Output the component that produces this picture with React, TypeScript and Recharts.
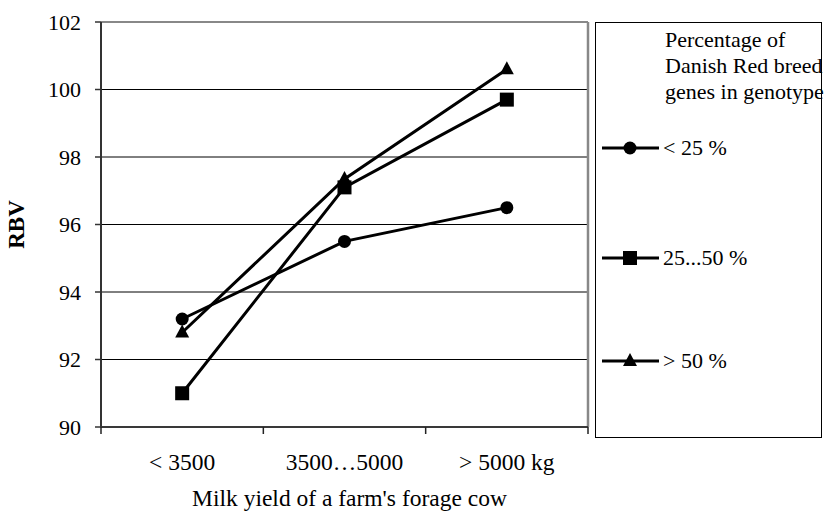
import React from "react";
import { LineChart, Line, XAxis, YAxis, CartesianGrid, ReferenceLine } from "recharts";

const categories = ["< 3500", "3500…5000", "> 5000 kg"];
const below25 = [93.2, 95.5, 96.5];
const from25to50 = [91.0, 97.1, 99.7];
const above50 = [92.8, 97.35, 100.6];
const yTicks = [90, 92, 94, 96, 98, 100, 102];
const seriesNames = ["< 25 %", "25...50 %", "> 50 %"];
const legendTitle = ["Percentage of", "Danish Red breed", "genes in genotype"];

const W = 826;
const H = 512;
const PLOT_LEFT = 101;
const PLOT_RIGHT = 588;
const PLOT_TOP = 22;
const PLOT_BOTTOM = 427;
const BAND = (PLOT_RIGHT - PLOT_LEFT) / categories.length;
const FONT = "'Liberation Serif', 'Times New Roman', serif";

const data = categories.map((c, i) => ({
  cat: c,
  a: below25[i],
  b: from25to50[i],
  c: above50[i],
}));

type Shape = "circle" | "square" | "triangle";

const Marker = ({ cx, cy, shape }: { cx: number; cy: number; shape: Shape }) => {
  if (cx == null || cy == null) return null;
  if (shape === "circle") return <circle cx={cx} cy={cy} r={6.5} fill="#000" />;
  if (shape === "square") return <rect x={cx - 7} y={cy - 7} width={14} height={14} fill="#000" />;
  return <polygon points={`${cx},${cy - 8} ${cx + 7},${cy + 5} ${cx - 7},${cy + 5}`} fill="#000" />;
};

const series: { key: string; name: string; shape: Shape }[] = [
  { key: "a", name: seriesNames[0], shape: "circle" },
  { key: "b", name: seriesNames[1], shape: "square" },
  { key: "c", name: seriesNames[2], shape: "triangle" },
];

// category labels sit in the middle, tick marks on the band edges
const XTick = (p: any) => {
  const half = BAND / 2;
  const last = p.index === categories.length - 1;
  return (
    <g>
      <line x1={p.x - half} x2={p.x - half} y1={p.y} y2={p.y + 7} stroke="#222" strokeWidth={1.5} />
      {last && <line x1={p.x + half} x2={p.x + half} y1={p.y} y2={p.y + 7} stroke="#222" strokeWidth={1.5} />}
      <text x={p.x} y={p.y + 43} textAnchor="middle" fontSize={23.5} fontFamily={FONT} fill="#000">
        {p.payload.value}
      </text>
    </g>
  );
};

const legendRows = [125, 235, 338];

export default function App() {
  return (
    <div style={{ position: "absolute", left: 0, top: 0, width: W, height: H, background: "#fff", fontFamily: FONT }}>
      <LineChart
        width={W}
        height={H}
        data={data}
        margin={{ top: PLOT_TOP, left: 0, right: W - PLOT_RIGHT, bottom: 0 }}
      >
        <CartesianGrid horizontal vertical={false} stroke="#000" strokeWidth={1} />
        <CartesianGrid
          horizontal={false}
          vertical
          verticalCoordinatesGenerator={({ offset }: any) => [offset.left + offset.width]}
          stroke="#888"
          strokeWidth={2.5}
        />
        <ReferenceLine y={102} stroke="#888" strokeWidth={2} />
        <XAxis
          dataKey="cat"
          height={H - PLOT_BOTTOM}
          interval={0}
          padding={{ left: BAND / 2, right: BAND / 2 }}
          tickLine={false}
          tickSize={0}
          tickMargin={0}
          axisLine={{ stroke: "#222", strokeWidth: 1.5 }}
          tick={<XTick />}
          label={{
            value: "Milk yield of a farm's forage cow",
            position: "insideBottom",
            offset: 6,
            dx: 5,
            fontSize: 23.5,
            fontFamily: FONT,
            fill: "#000",
          }}
        />
        <YAxis
          width={PLOT_LEFT}
          domain={[90, 102]}
          ticks={yTicks}
          interval={0}
          tickSize={6}
          tickMargin={14}
          axisLine={{ stroke: "#333", strokeWidth: 2 }}
          tickLine={{ stroke: "#333", strokeWidth: 1.5 }}
          tick={{ fontSize: 22, fontFamily: FONT, fill: "#000" }}
          label={{
            value: "RBV",
            content: ({ viewBox }: any) => {
              const x = 16;
              const y = viewBox.y + viewBox.height / 2;
              return (
                <text
                  x={x}
                  y={y}
                  transform={`rotate(-90, ${x}, ${y})`}
                  textAnchor="middle"
                  dominantBaseline="central"
                  fontSize={23}
                  fontWeight="bold"
                  fontFamily={FONT}
                  fill="#000"
                >
                  RBV
                </text>
              );
            },
          }}
        />
        {series.map((s) => (
          <Line
            key={s.key}
            type="linear"
            dataKey={s.key}
            name={s.name}
            stroke="#000"
            strokeWidth={3}
            isAnimationActive={false}
            dot={(p: any) => <Marker key={`${s.key}-${p.index}`} cx={p.cx} cy={p.cy} shape={s.shape} />}
            activeDot={false}
          />
        ))}
      </LineChart>

      <div
        style={{
          position: "absolute",
          left: 595,
          top: PLOT_TOP,
          width: 227,
          height: 416,
          border: "1.5px solid #000",
          boxSizing: "border-box",
        }}
      >
        <div style={{ position: "absolute", left: 69, top: 4, fontSize: 22, lineHeight: "26px", whiteSpace: "nowrap" }}>
          {legendTitle.map((t) => (
            <div key={t}>{t}</div>
          ))}
        </div>
        {series.map((s, i) => (
          <div key={s.key} style={{ position: "absolute", left: 6, top: legendRows[i] - 14, height: 28, display: "flex", alignItems: "center" }}>
            <svg width={57} height={20}>
              <line x1={0} x2={57} y1={10} y2={10} stroke="#000" strokeWidth={3} />
              <Marker cx={28} cy={10} shape={s.shape} />
            </svg>
            <span style={{ fontSize: 22, marginLeft: 4, whiteSpace: "nowrap" }}>{s.name}</span>
          </div>
        ))}
      </div>
    </div>
  );
}
